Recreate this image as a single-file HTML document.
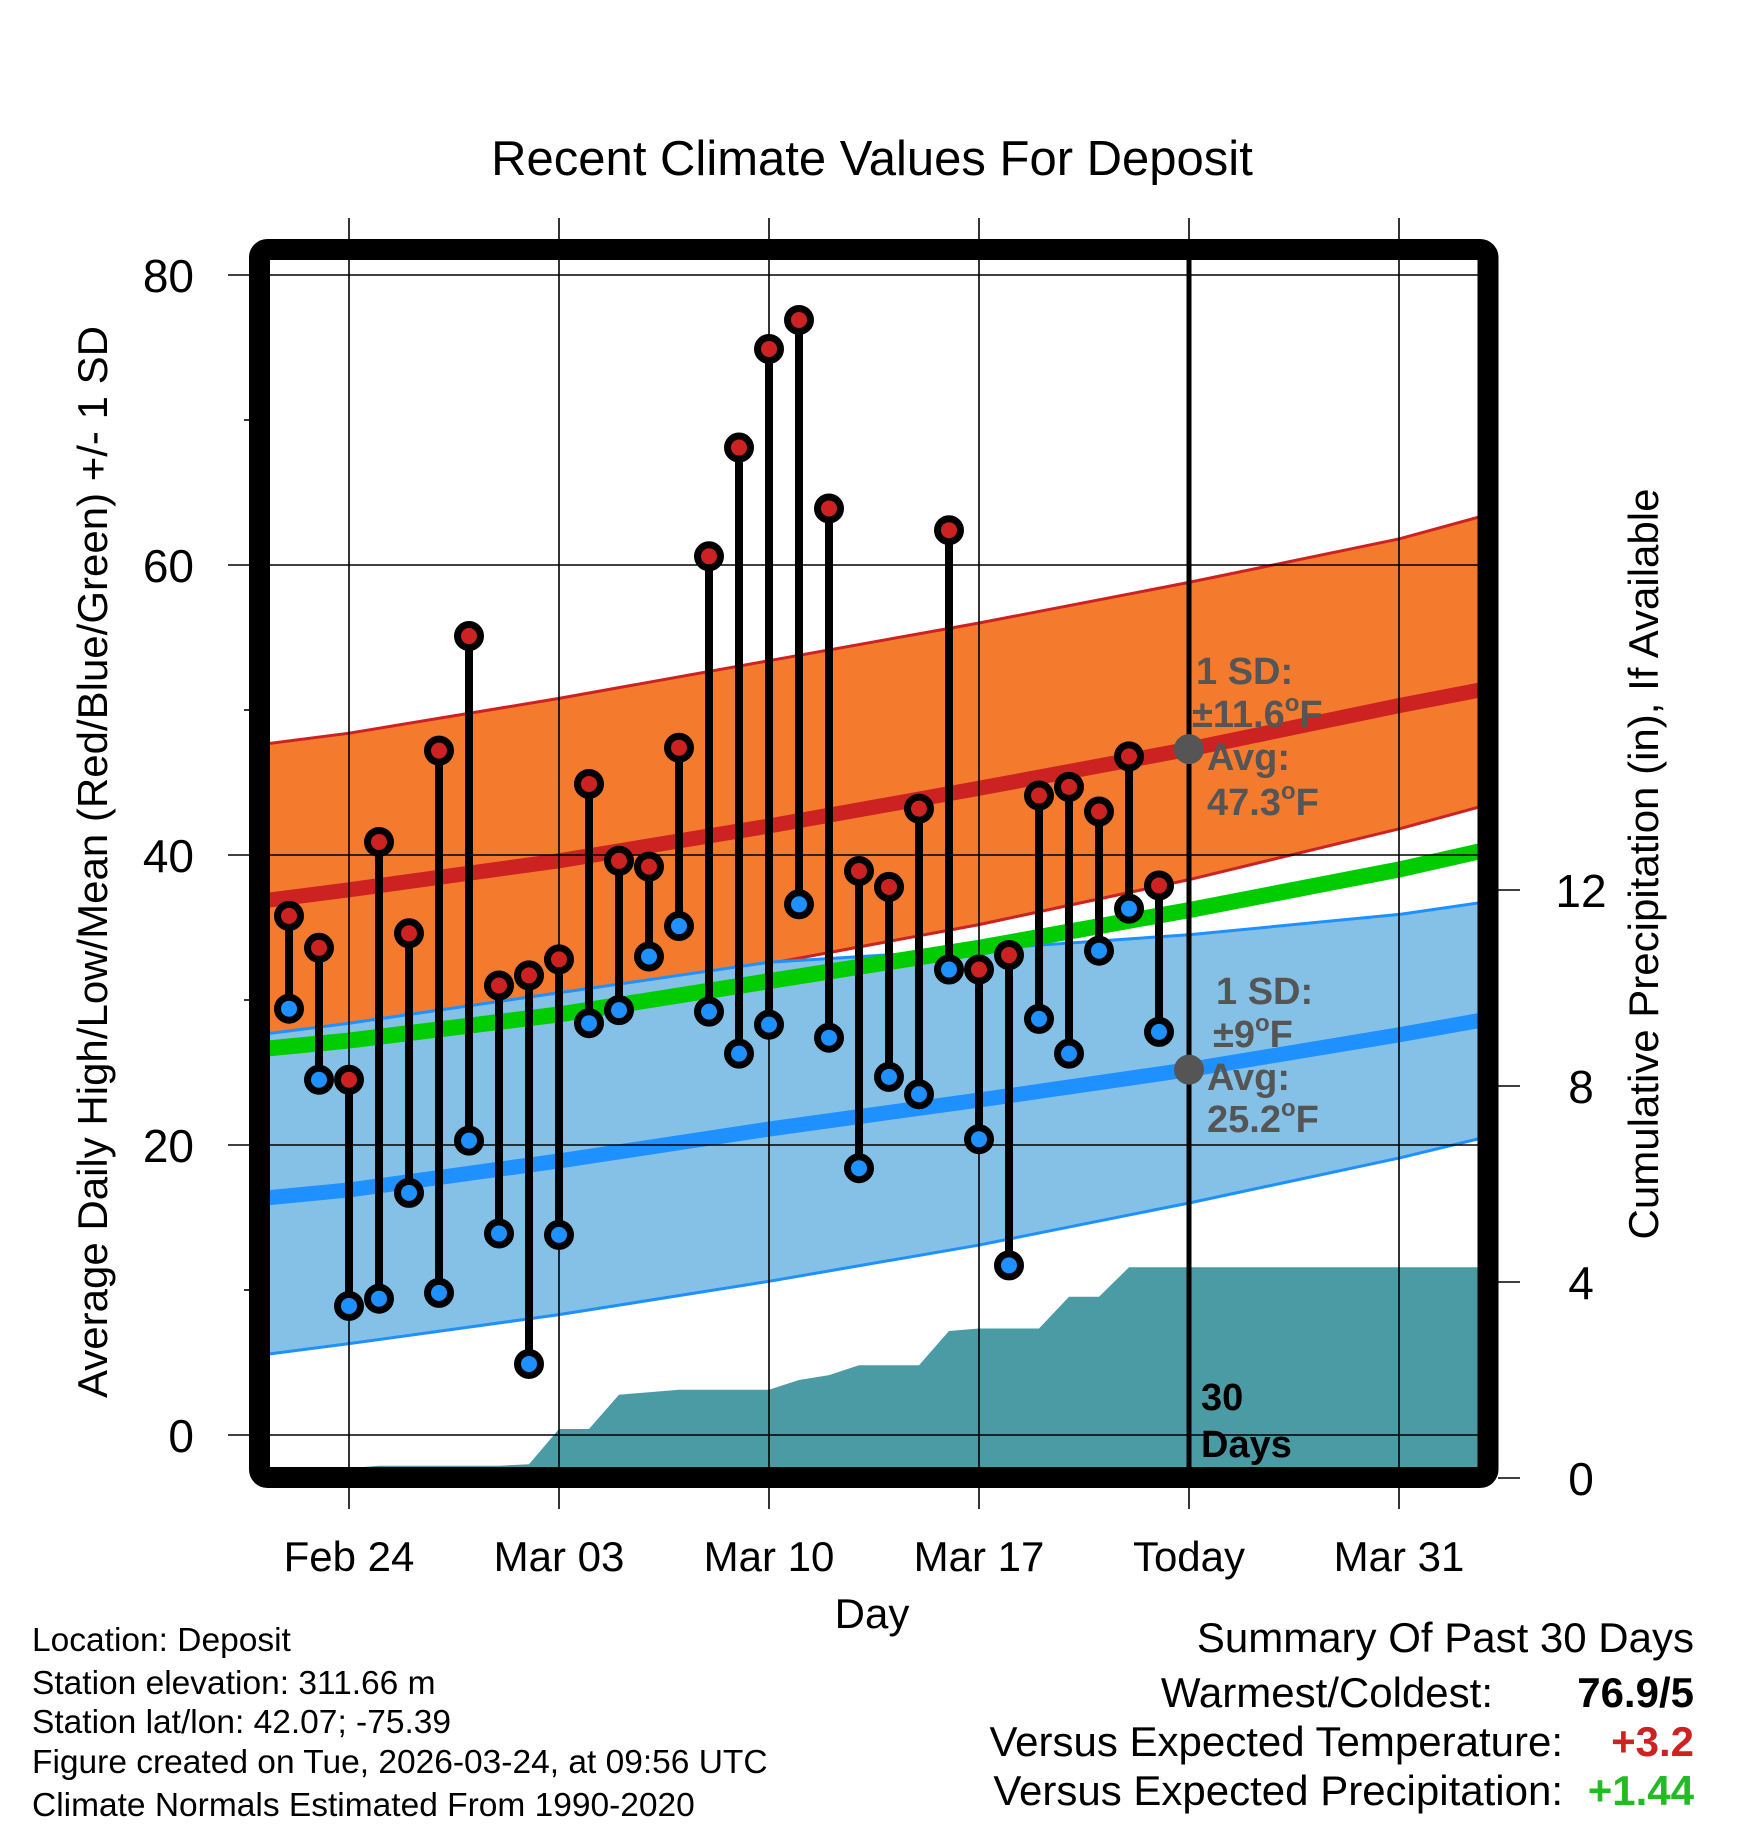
<!DOCTYPE html>
<html><head><meta charset="utf-8"><style>
html,body{margin:0;padding:0;background:#fff;}
svg{display:block;font-family:"Liberation Sans",sans-serif;}
</style></head><body>
<svg id="chart" width="1748" height="1828" viewBox="0 0 1748 1828" xmlns="http://www.w3.org/2000/svg">
<defs><clipPath id="plotclip"><rect x="270" y="260" width="1208" height="1207"/></clipPath></defs>
<g id="layers"></g>
</svg>
<script>
// ---- data ----
const dayLabels = ["Feb 22","Feb 23","Feb 24","Feb 25","Feb 26","Feb 27","Feb 28","Mar 01","Mar 02","Mar 03","Mar 04","Mar 05","Mar 06","Mar 07","Mar 08","Mar 09","Mar 10","Mar 11","Mar 12","Mar 13","Mar 14","Mar 15","Mar 16","Mar 17","Mar 18","Mar 19","Mar 20","Mar 21","Mar 22","Mar 23"];
const dayOffsets = [-2,-1,0,1,2,3,4,5,6,7,8,9,10,11,12,13,14,15,16,17,18,19,20,21,22,23,24,25,26,27];
const highs = [35.8,33.6,24.5,40.9,34.6,47.2,55.1,31.0,31.7,32.8,44.9,39.6,39.2,47.4,60.6,68.1,74.9,76.9,63.9,38.9,37.8,43.2,62.4,32.1,33.1,44.1,44.7,43.0,46.8,37.9];
const lows = [29.4,24.5,8.9,9.4,16.7,9.8,20.3,13.9,4.9,13.8,28.4,29.3,33.0,35.1,29.2,26.3,28.3,36.6,27.4,18.4,24.7,23.5,32.1,20.4,11.7,28.7,26.3,33.4,36.3,27.8];
const precip = [0.2,0.2,0.2,0.25,0.25,0.25,0.25,0.25,0.28,1.0,1.0,1.7,1.75,1.8,1.8,1.8,1.8,2.0,2.1,2.3,2.3,2.3,3.0,3.05,3.05,3.05,3.7,3.7,4.3,4.3];
const normDays = [-3,0,7,14,21,28,35,38];
const normHigh = [36.8,37.6,39.6,42.0,44.6,47.3,50.3,51.5];
const normHighUpper = [47.6,48.4,50.8,53.4,56.0,58.8,61.8,63.5];
const normHighLower = [27.4,28.0,29.9,32.5,35.2,38.3,41.8,43.5];
const normMean = [26.6,27.2,29.0,31.3,33.6,36.2,39.0,40.4];
const normLow = [16.3,16.9,18.9,21.1,23.1,25.2,27.6,28.7];
const normLowUpper = [27.6,28.4,30.5,32.6,33.5,34.5,35.9,36.8];
const normLowLower = [5.5,6.3,8.3,10.6,13.1,16.0,19.1,20.6];
const xTickDays = [0,7,14,21,28,35];
const xTickLabels = ["Feb 24","Mar 03","Mar 10","Mar 17","Today","Mar 31"];
const yTicks = [0,20,40,60,80];
const yMinorTicks = [10,30,50,70];
const pTicks = [0,4,8,12];
const todayDay = 28;
const todayHighAvg = 47.3, todayLowAvg = 25.2;

// ---- scales ----
const X = d => 349 + 30*d;
const Y = v => 1435 - 14.5*v;
const P = p => 1478 - 49*p;
const NS = "http://www.w3.org/2000/svg";
const root = document.getElementById('layers');
function mk(tag, attrs, parent){const e=document.createElementNS(NS,tag);for(const k in attrs)e.setAttribute(k,attrs[k]);(parent||root).appendChild(e);return e;}
const plot = mk('g',{'clip-path':'url(#plotclip)'});



function linePts(arr){return normDays.map((d,i)=>X(d)+','+Y(arr[i])).join(' ');}
function band(up,lo,fill,name){
  const pts = normDays.map((d,i)=>X(d)+','+Y(up[i])).concat(normDays.slice().reverse().map((d,j)=>{const i=normDays.length-1-j;return X(d)+','+Y(lo[i]);}));
  const e = mk('polygon',{points:pts.join(' '),fill:fill},plot);
  
  
}
function line(arr,color,w,name){
  const e = mk('polyline',{points:linePts(arr),fill:'none',stroke:color,'stroke-width':w},plot);
  
  
}
band(normHighUpper,normHighLower,'#f47a2e','high-sd-band');
line(normHighUpper,'#cc2222',3,'high-sd-upper-edge');
line(normHighLower,'#cc2222',3,'high-sd-lower-edge');
band(normLowUpper,normLowLower,'#85c1e6','low-sd-band');
line(normLowUpper,'#1e90ff',3,'low-sd-upper-edge');
line(normLowLower,'#1e90ff',3,'low-sd-lower-edge');

// precipitation area
{
  let pts = [X(dayOffsets[0])+','+P(0)];
  dayOffsets.forEach((d,i)=>pts.push(X(d)+','+P(precip[i])));
  pts.push('1478,'+P(precip[precip.length-1]));
  pts.push('1478,'+P(0));
  const e = mk('polygon',{points:pts.join(' '),fill:'#4a9ba4'},plot);
  
  
}

// gridlines
yTicks.forEach(v=>{
  const e = mk('line',{x1:228,x2:1478,y1:Y(v),y2:Y(v),stroke:'#000','stroke-width':1.6});
  
  
  const t = mk('text',{x:194,y:Y(v)+17,'font-size':46,'text-anchor':'end',fill:'#000'});
  t.textContent = v;
  
  
});
yMinorTicks.forEach(v=>{
  const e = mk('line',{x1:244,x2:260,y1:Y(v),y2:Y(v),stroke:'#000','stroke-width':1.6});
  
  
});
xTickDays.forEach((d,i)=>{
  const e = mk('line',{x1:X(d),x2:X(d),y1:218,y2:1509,stroke:'#000','stroke-width':1.6});
  
  
  const t = mk('text',{x:X(d),y:1571,'font-size':42,'text-anchor':'middle',fill:'#000'});
  t.textContent = xTickLabels[i];
  
  
});
pTicks.forEach(p=>{
  const e = mk('line',{x1:1498,x2:1520,y1:P(p),y2:P(p),stroke:'#000','stroke-width':1.6});
  
  
  const t = mk('text',{x:1581,y:P(p)+17,'font-size':46,'text-anchor':'middle',fill:'#000'});
  t.textContent = p;
  
  
});

// normal lines
line(normMean,'#00cc00',16,'normal-mean-line');
line(normHigh,'#cc2222',15,'normal-high-line');
line(normLow,'#1e90ff',15,'normal-low-line');

// today line
{
  const e = mk('line',{x1:X(todayDay),x2:X(todayDay),y1:260,y2:1467,stroke:'#000','stroke-width':5});
  
  
  const d1 = mk('circle',{cx:X(todayDay),cy:Y(todayHighAvg),r:15,fill:'#555'});
  
  
  const d2 = mk('circle',{cx:X(todayDay),cy:Y(todayLowAvg),r:15,fill:'#555'});
  
  
}

// daily stems and markers
dayOffsets.forEach((d,i)=>{
  const g = mk('g',{});
  
  
  mk('line',{x1:X(d),x2:X(d),y1:Y(highs[i]),y2:Y(lows[i]),stroke:'#000','stroke-width':8},g);
  const h = mk('circle',{cx:X(d),cy:Y(highs[i]),r:11.5,fill:'#cc2222',stroke:'#000','stroke-width':7},g);
  
  
  const l = mk('circle',{cx:X(d),cy:Y(lows[i]),r:11.5,fill:'#1e90ff',stroke:'#000','stroke-width':7},g);
  
  
});
</script>
<svg style="position:absolute;left:0;top:0" width="1748" height="1828" viewBox="0 0 1748 1828" xmlns="http://www.w3.org/2000/svg">
<g font-family="Liberation Sans, sans-serif">
<rect x="259.5" y="249.5" width="1228.5" height="1228" rx="8" fill="none" stroke="#000" stroke-width="21"/>
<text x="872" y="175" font-size="49" text-anchor="middle">Recent Climate Values For Deposit</text>
<text transform="translate(107,862) rotate(-90)" font-size="42" text-anchor="middle">Average Daily High/Low/Mean (Red/Blue/Green) +/- 1 SD</text>
<text transform="translate(1658,864) rotate(-90)" font-size="42" text-anchor="middle">Cumulative Precipitation (in), If Available</text>
<text x="872" y="1628" font-size="42" text-anchor="middle">Day</text>
<g font-weight="bold" font-size="38" fill="#555">
<text x="1196" y="684">1 SD:</text>
<text x="1192" y="727">±11.6<tspan font-size="24" dy="-16">o</tspan><tspan dy="16">F</tspan></text>
<text x="1207" y="770">Avg:</text>
<text x="1207" y="815">47.3<tspan font-size="24" dy="-16">o</tspan><tspan dy="16">F</tspan></text>
</g>
<g font-weight="bold" font-size="38" fill="#555">
<text x="1216" y="1004">1 SD:</text>
<text x="1213" y="1047">±9<tspan font-size="24" dy="-16">o</tspan><tspan dy="16">F</tspan></text>
<text x="1207" y="1090">Avg:</text>
<text x="1207" y="1132">25.2<tspan font-size="24" dy="-16">o</tspan><tspan dy="16">F</tspan></text>
</g>
<g font-weight="bold" font-size="38" fill="#000">
<text x="1201" y="1410">30</text>
<text x="1201" y="1457">Days</text>
</g>
<g font-size="33.5" fill="#000">
<text x="32" y="1651">Location: Deposit</text>
<text x="32" y="1694">Station elevation: 311.66 m</text>
<text x="32" y="1733">Station lat/lon: 42.07; -75.39</text>
<text x="32" y="1773">Figure created on Tue, 2026-03-24, at 09:56 UTC</text>
<text x="32" y="1816">Climate Normals Estimated From 1990-2020</text>
</g>
<g font-size="42" fill="#000">
<text x="1694" y="1652" text-anchor="end">Summary Of Past 30 Days</text>
<text x="1493" y="1707" text-anchor="end">Warmest/Coldest:</text>
<text x="1694" y="1707" text-anchor="end" font-weight="bold">76.9/5</text>
<text x="1563" y="1756" text-anchor="end">Versus Expected Temperature:</text>
<text x="1694" y="1756" text-anchor="end" font-weight="bold" fill="#cc2222">+3.2</text>
<text x="1563" y="1805" text-anchor="end">Versus Expected Precipitation:</text>
<text x="1694" y="1805" text-anchor="end" font-weight="bold" fill="#22bb22">+1.44</text>
</g>
</g>
</svg>
</body></html>
